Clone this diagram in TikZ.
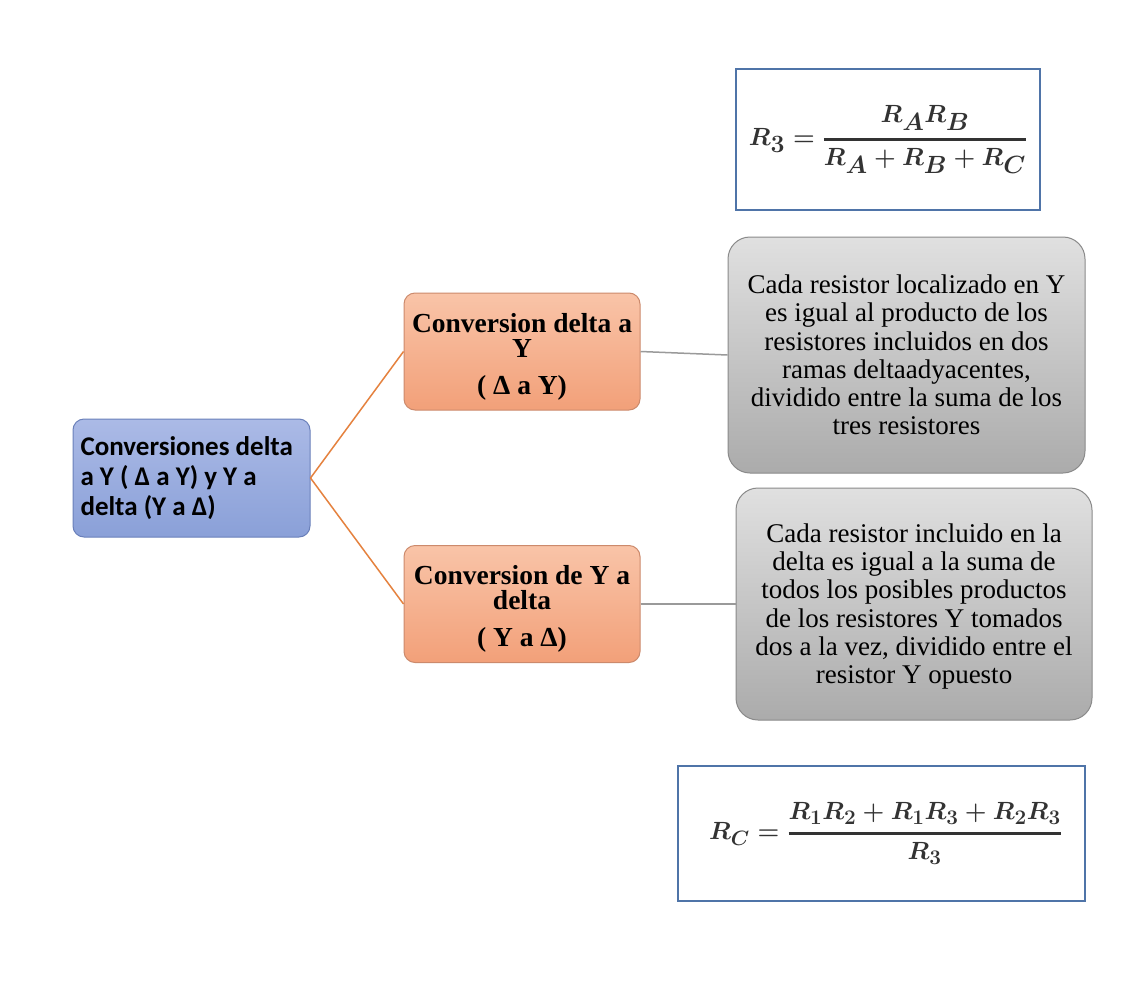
\documentclass[tikz,border=0pt]{standalone}
\usepackage{amsmath}
\usepackage{fontspec}
\setmainfont{Liberation Serif}
\newfontfamily\carlito{Carlito}
\definecolor{bluetop}{HTML}{ABBAE6}
\definecolor{bluebot}{HTML}{8AA0D8}
\definecolor{bluedraw}{HTML}{6A80BA}
\definecolor{orgtop}{HTML}{F9C4A8}
\definecolor{orgbot}{HTML}{F2A079}
\definecolor{orgdraw}{HTML}{CC8A6C}
\definecolor{grytop}{HTML}{E0E0E0}
\definecolor{grybot}{HTML}{ABABAB}
\definecolor{grydraw}{HTML}{8A8A8A}
\definecolor{orgline}{HTML}{E5823F}
\definecolor{gryline}{HTML}{9A9A9A}
\definecolor{fdraw}{HTML}{4F74A8}
\definecolor{ftext}{HTML}{333333}
\newcommand{\fbar}[2]{\genfrac{}{}{2.6pt}{0}{#1}{#2}}
\newcommand{\topstrut}{\rule{0pt}{29pt}}
\begin{document}
\begin{tikzpicture}[x=1pt,y=-1pt,
  natspace/.style={execute at begin node={\spaceskip=0pt\xspaceskip=0pt\relax}},
  bluebox/.style={draw=bluedraw, line width=1pt, rounded corners=11pt,
    top color=bluetop, bottom color=bluebot, minimum width=237pt, minimum height=118pt,
    inner sep=0pt, text width=222pt, align=flush left, natspace,
    font=\carlito\bfseries\fontsize{27pt}{30pt}\selectfont},
  orgbox/.style={draw=orgdraw, line width=1pt, rounded corners=11pt,
    top color=orgtop, bottom color=orgbot, minimum width=236pt, minimum height=117pt,
    inner sep=0pt, text width=230pt, align=flush center, natspace,
    font=\bfseries\fontsize{27.5pt}{25pt}\selectfont},
  grybox/.style={draw=grydraw, line width=1pt, rounded corners=22pt,
    top color=grytop, bottom color=grybot,
    inner sep=0pt, text width=345pt, align=flush center, natspace,
    font=\fontsize{27pt}{28.3pt}\selectfont},
  formbox/.style={draw=fdraw, line width=1.2pt, fill=white, inner sep=0pt,
    text=ftext, font=\boldmath\fontsize{33pt}{36pt}\selectfont},
  orgconn/.style={draw=orgline, line width=1.5pt},
  gryconn/.style={draw=gryline, line width=1.5pt}
]
\useasboundingbox (0,0) rectangle (1131,998);
\fill[white] (0,0) rectangle (1131,998);

\node[bluebox] (root) at (191.5,478) {Conversiones delta\\a Y ( Δ a Y) y Y a\\delta (Y a Δ)};

\node[orgbox] (o1) at (522,351.5) {\topstrut Conversion delta a\\Y\\[12pt]( Δ a Y)};
\node[orgbox] (o2) at (522,604) {\topstrut Conversion de Y a\\delta\\[12pt]( Y a Δ)};

\node[grybox, minimum width=357pt, minimum height=236pt] (g1) at (906.5,355)
  {Cada resistor localizado en Y\\es igual al producto de los\\resistores incluidos en dos\\ramas deltaadyacentes,\\dividido entre la suma de los\\tres resistores};
\node[grybox, minimum width=356pt, minimum height=232pt] (g2) at (914,604)
  {\rule{0pt}{24pt}Cada resistor incluido en la\\delta es igual a la suma de\\todos los posibles productos\\de los resistores Y tomados\\dos a la vez, dividido entre el\\resistor Y opuesto};

\node[formbox, minimum width=304pt, minimum height=141pt] (f1) at (888,139.5)
  {$\displaystyle R_3 = \fbar{R_A R_B}{R_A + R_B + R_C}$};
\node[formbox, minimum width=407pt, minimum height=135pt, font=\boldmath\fontsize{31pt}{34pt}\selectfont] (f2) at (881.5,833.5)
  {\hspace*{8pt}$\displaystyle R_C = \fbar{R_1R_2 + R_1R_3 + R_2R_3}{R_3}$};

\draw[orgconn] (root.east) -- (o1.west);
\draw[orgconn] (root.east) -- (o2.west);
\draw[gryconn] (o1.east) -- (g1.west);
\draw[gryconn] (o2.east) -- (g2.west);
\end{tikzpicture}
\end{document}
